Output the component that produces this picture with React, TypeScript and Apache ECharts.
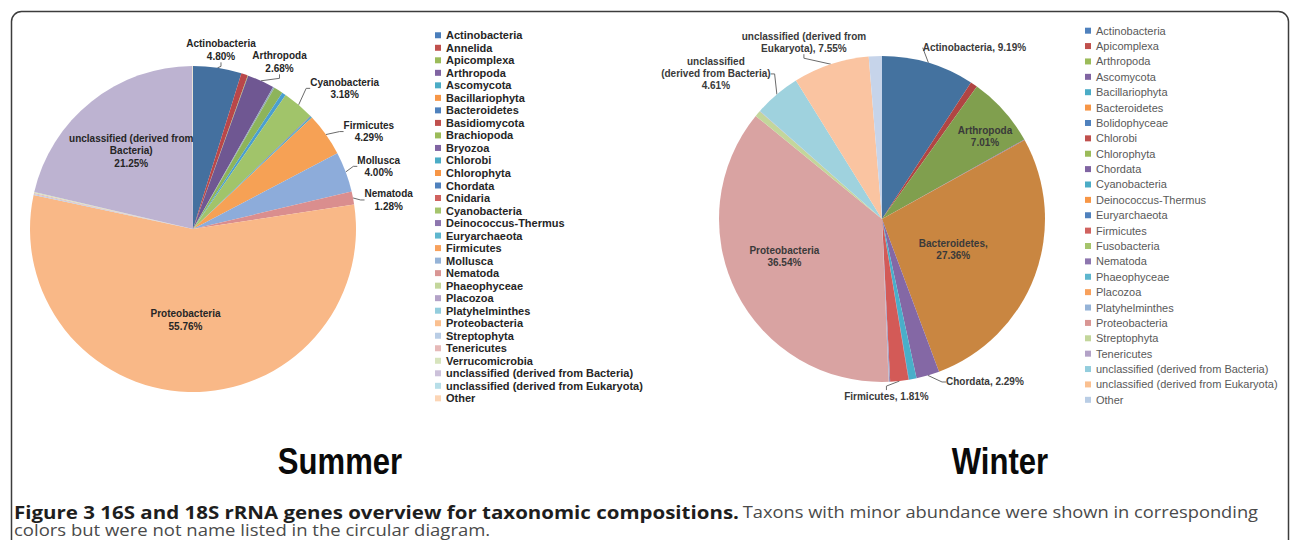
import React, { useEffect, useRef } from 'react';
import * as echarts from 'echarts';

// ---------------- DATA ----------------
const summerNames = [
  'Actinobacteria', 'Annelida', 'Apicomplexa', 'Arthropoda', 'Ascomycota', 'Bacillariophyta',
  'Bacteroidetes', 'Basidiomycota', 'Brachiopoda', 'Bryozoa', 'Chlorobi', 'Chlorophyta',
  'Chordata', 'Cnidaria', 'Cyanobacteria', 'Deinococcus-Thermus', 'Euryarchaeota', 'Firmicutes',
  'Mollusca', 'Nematoda', 'Phaeophyceae', 'Placozoa', 'Platyhelminthes', 'Proteobacteria',
  'Streptophyta', 'Tenericutes', 'Verrucomicrobia', 'unclassified (derived from Bacteria)',
  'unclassified (derived from Eukaryota)', 'Other',
];
const summerValues = [
  4.80, 0.65, 0.05, 2.68, 0.15, 0,
  0, 0, 0.90, 0, 0.40, 0,
  0, 0, 3.18, 0.06, 0.15, 4.29,
  4.00, 1.28, 0, 0, 0, 55.76,
  0.10, 0.10, 0.10, 21.25,
  0.05, 0.05,
];

const winterNames = [
  'Actinobacteria', 'Apicomplexa', 'Arthropoda', 'Ascomycota', 'Bacillariophyta', 'Bacteroidetes',
  'Bolidophyceae', 'Chlorobi', 'Chlorophyta', 'Chordata', 'Cyanobacteria', 'Deinococcus-Thermus',
  'Euryarchaeota', 'Firmicutes', 'Fusobacteria', 'Nematoda', 'Phaeophyceae', 'Placozoa',
  'Platyhelminthes', 'Proteobacteria', 'Streptophyta', 'Tenericutes',
  'unclassified (derived from Bacteria)', 'unclassified (derived from Eukaryota)', 'Other',
];
const winterValues = [
  9.19, 0.70, 7.01, 0.05, 0, 27.36,
  0, 0, 0, 2.29, 0.75, 0,
  0.04, 1.81, 0, 0.10, 0, 0,
  0.05, 36.54, 0.60, 0.05,
  4.61, 7.55, 1.30,
];

// label texts ({v} = value of the slice)
const summerLabelText: Record<string, string> = {
  'Actinobacteria': 'Actinobacteria\n{v}',
  'Arthropoda': 'Arthropoda\n{v}',
  'Cyanobacteria': 'Cyanobacteria\n{v}',
  'Firmicutes': 'Firmicutes\n{v}',
  'Mollusca': 'Mollusca\n{v}',
  'Nematoda': 'Nematoda\n{v}',
  'Proteobacteria': 'Proteobacteria\n{v}',
  'unclassified (derived from Bacteria)': 'unclassified (derived from\nBacteria)\n{v}',
};
const winterLabelText: Record<string, string> = {
  'Actinobacteria': 'Actinobacteria, {v}',
  'Arthropoda': 'Arthropoda\n{v}',
  'Bacteroidetes': 'Bacteroidetes,\n{v}',
  'Chordata': 'Chordata, {v}',
  'Firmicutes': 'Firmicutes, {v}',
  'Proteobacteria': 'Proteobacteria\n{v}',
  'unclassified (derived from Bacteria)': 'unclassified\n(derived from Bacteria)\n{v}',
  'unclassified (derived from Eukaryota)': 'unclassified (derived from\nEukaryota), {v}',
};

const titles = ['Summer', 'Winter'];
const captionBold = 'Figure 3 16S and 18S rRNA genes overview for taxonomic compositions.';
const captionRest1 = 'Taxons with minor abundance were shown in corresponding';
const captionRest2 = 'colors but were not name listed in the circular diagram.';

// ---------------- STYLES ----------------
const summerSliceColors = [
  '#44709F', '#B9474A', '#9BBB59', '#6F5792', '#8FA6B8', '#F79646',
  '#4F81BD', '#C0504D', '#8DB45B', '#8064A2', '#4A9FD0', '#F79646',
  '#4F81BD', '#C0504D', '#A1C46A', '#8064A2', '#4BACC6', '#F6A155',
  '#8DACDA', '#DA8E8E', '#C3D69B', '#B3A2C7', '#93CDDD', '#F9B887',
  '#B9CDE5', '#E6B9B8', '#D7E4BD', '#BDB3D1', '#B7DEE8', '#FCD5B5',
];
const summerLegendColors = [
  '#4A7EBB', '#C0504D', '#9BBB59', '#8064A2', '#4BACC6', '#F79646',
  '#4F81BD', '#C0504D', '#9BBB59', '#8064A2', '#4BACC6', '#F79646',
  '#4F81BD', '#D0625F', '#A5C46C', '#8D76AE', '#5EB6CE', '#F8A15C',
  '#95B3D7', '#D99694', '#C3D69B', '#B3A2C7', '#93CDDD', '#FAC090',
  '#B9CDE5', '#E6B9B8', '#D7E4BD', '#CCC1DA', '#B7DEE8', '#FCD5B5',
];
const winterSliceColors = [
  '#44729F', '#B04543', '#809F4E', '#8064A2', '#4BACC6', '#C98641',
  '#4F81BD', '#C0504D', '#9BBB59', '#8468A5', '#49AFC9', '#F79646',
  '#4F81BD', '#D35A57', '#9BBB59', '#9A8CB5', '#4BACC6', '#F79646',
  '#95B3D7', '#D9A3A2', '#C3D69B', '#B3A2C7', '#9FD2DE', '#FAC4A1',
  '#C6D4EA',
];
const winterLegendColors = [
  '#4F81BD', '#C0504D', '#9BBB59', '#8064A2', '#4BACC6', '#F79646',
  '#4F81BD', '#C0504D', '#9BBB59', '#8064A2', '#4BACC6', '#F79646',
  '#4F81BD', '#D0625F', '#A5C46C', '#8D76AE', '#5EB6CE', '#F8A15C',
  '#95B3D7', '#D99694', '#C3D69B', '#B3A2C7', '#93CDDD', '#FAC090',
  '#B9CDE5',
];

// label placement offsets relative to the library's anchor (slice edge for outside, default inside position)
type LabelCfg = { outside: boolean; dx: number; dy: number };
const summerLabelCfg: Record<string, LabelCfg> = {
  'Actinobacteria': { outside: true, dx: 3.5, dy: -18 },
  'Arthropoda': { outside: true, dx: 18.6, dy: -19 },
  'Cyanobacteria': { outside: true, dx: 46, dy: -16.5 },
  'Firmicutes': { outside: true, dx: 43, dy: -3 },
  'Mollusca': { outside: true, dx: 33, dy: -5.6 },
  'Nematoda': { outside: true, dx: 35.7, dy: 2 },
  'Proteobacteria': { outside: false, dx: -5, dy: 6.5 },
  'unclassified (derived from Bacteria)': { outside: false, dx: -9, dy: -12 },
};
const winterLabelCfg: Record<string, LabelCfg> = {
  'Actinobacteria': { outside: true, dx: 46, dy: -15 },
  'Arthropoda': { outside: false, dx: 40, dy: -26 },
  'Bacteroidetes': { outside: false, dx: -8, dy: 1.4 },
  'Chordata': { outside: true, dx: 57, dy: 6.6 },
  'Firmicutes': { outside: true, dx: -13, dy: 15 },
  'Proteobacteria': { outside: false, dx: -22, dy: -0.5 },
  'unclassified (derived from Bacteria)': { outside: true, dx: -61, dy: -20.5 },
  'unclassified (derived from Eukaryota)': { outside: true, dx: -27, dy: -22 },
};

const FONT = '"Liberation Sans", Arial, sans-serif';
const CAPTION_FONT = '"Open Sans", sans-serif';

function buildSeries(
  names: string[], values: number[], colors: string[],
  texts: Record<string, string>, cfgs: Record<string, LabelCfg>,
  center: number[], labelColor: string, lineHeight: number,
) {
  return {
    type: 'pie',
    center,
    radius: 163,
    startAngle: 90,
    clockwise: true,
    avoidLabelOverlap: false,
    selectedMode: false,
    emphasis: { disabled: true, scale: false },
    itemStyle: { borderWidth: 0 },
    label: {
      show: false,
      fontFamily: FONT,
      fontSize: 10,
      fontWeight: 'bold',
      color: labelColor,
      lineHeight,
    },
    labelLine: { show: false },
    labelLayout: (params: any) => {
      const name = names[params.dataIndex];
      const cfg = cfgs[name];
      if (!cfg) return {};
      const r = params.labelRect;
      let ax = r.x + r.width / 2;
      let ay = r.y + r.height / 2;
      const pts = params.labelLinePoints;
      if (cfg.outside && pts && pts.length) {
        ax = pts[0][0];
        ay = pts[0][1];
      }
      return { x: ax + cfg.dx, y: ay + cfg.dy, align: 'center', verticalAlign: 'middle' };
    },
    data: names.map((name, i) => {
      const cfg = cfgs[name];
      const item: any = { name, value: values[i], itemStyle: { color: colors[i] } };
      if (cfg) {
        item.label = {
          show: true,
          position: cfg.outside ? 'outside' : 'inside',
          formatter: (p: any) => texts[name].replace('{v}', Number(p.value).toFixed(2) + '%'),
        };
        item.labelLine = cfg.outside
          ? { show: true, length: 6, length2: 4, lineStyle: { color: '#6b6b6b', width: 1 } }
          : { show: false };
      }
      return item;
    }),
  };
}

function buildLegend(names: string[], colors: string[], left: number, top: number,
  lineHeight: number, weight: string, color: string) {
  return {
    orient: 'vertical',
    left,
    top,
    padding: 0,
    itemGap: 0,
    itemWidth: 6,
    itemHeight: 6,
    icon: 'rect',
    selectedMode: false,
    textStyle: { fontFamily: FONT, fontSize: 11, fontWeight: weight, color, lineHeight },
    data: names.map((n, i) => ({ name: n, icon: 'rect', itemStyle: { color: colors[i], borderWidth: 0 } })),
  };
}

export default function App() {
  const ref = useRef<HTMLDivElement>(null);
  useEffect(() => {
    const chart = echarts.init(ref.current!, null, { renderer: 'svg' });
    const option: any = {
      animation: false,
      backgroundColor: '#ffffff',
      legend: [
        buildLegend(summerNames, summerLegendColors, 435, 29, 12.52, 'bold', '#262626'),
        buildLegend(winterNames, winterLegendColors, 1085, 23, 15.38, 'normal', '#595959'),
      ],
      series: [
        buildSeries(summerNames, summerValues, summerSliceColors, summerLabelText, summerLabelCfg,
          [193, 229], '#262626', 12.5),
        buildSeries(winterNames, winterValues, winterSliceColors, winterLabelText, winterLabelCfg,
          [882, 219], '#3a3a3a', 12),
      ],
      graphic: [
        {
          type: 'rect', left: 9, top: 9, silent: true,
          shape: { width: 1277, height: 640, r: 10 },
          style: { fill: 'none', stroke: '#3c3c3c', lineWidth: 1.5 },
        },
        {
          type: 'text', x: 340, y: 461, scaleX: 0.84, silent: true,
          style: {
            text: titles[0], fontFamily: FONT, fontSize: 37, fontWeight: 'bold', fill: '#0a0a0a',
            align: 'center', verticalAlign: 'middle',
          },
        },
        {
          type: 'text', x: 1000, y: 461, scaleX: 0.84, silent: true,
          style: {
            text: titles[1], fontFamily: FONT, fontSize: 37, fontWeight: 'bold', fill: '#0a0a0a',
            align: 'center', verticalAlign: 'middle',
          },
        },
        {
          type: 'text', x: 14, y: 512, scaleY: 0.88, silent: true,
          style: {
            text: '{b|' + captionBold + '} {r|' + captionRest1 + '}',
            verticalAlign: 'middle',
            rich: {
              b: { fontFamily: CAPTION_FONT, fontSize: 20.5, fontWeight: 'bold', fill: '#1e1e1e', lineHeight: 20 },
              r: { fontFamily: CAPTION_FONT, fontSize: 18.3, fill: '#4a4a4a', lineHeight: 20 },
            },
          },
        },
        {
          type: 'text', x: 14, y: 530, scaleY: 0.86, silent: true,
          style: {
            text: captionRest2, fontFamily: CAPTION_FONT, fontSize: 18.5, fill: '#4a4a4a',
            lineHeight: 15, verticalAlign: 'middle',
          },
        },
      ],
    };
    chart.setOption(option);
    return () => chart.dispose();
  }, []);
  return (
    <div
      ref={ref}
      style={{ position: 'fixed', left: 0, top: 0, width: 1292, height: 540, background: '#fff' }}
    />
  );
}
